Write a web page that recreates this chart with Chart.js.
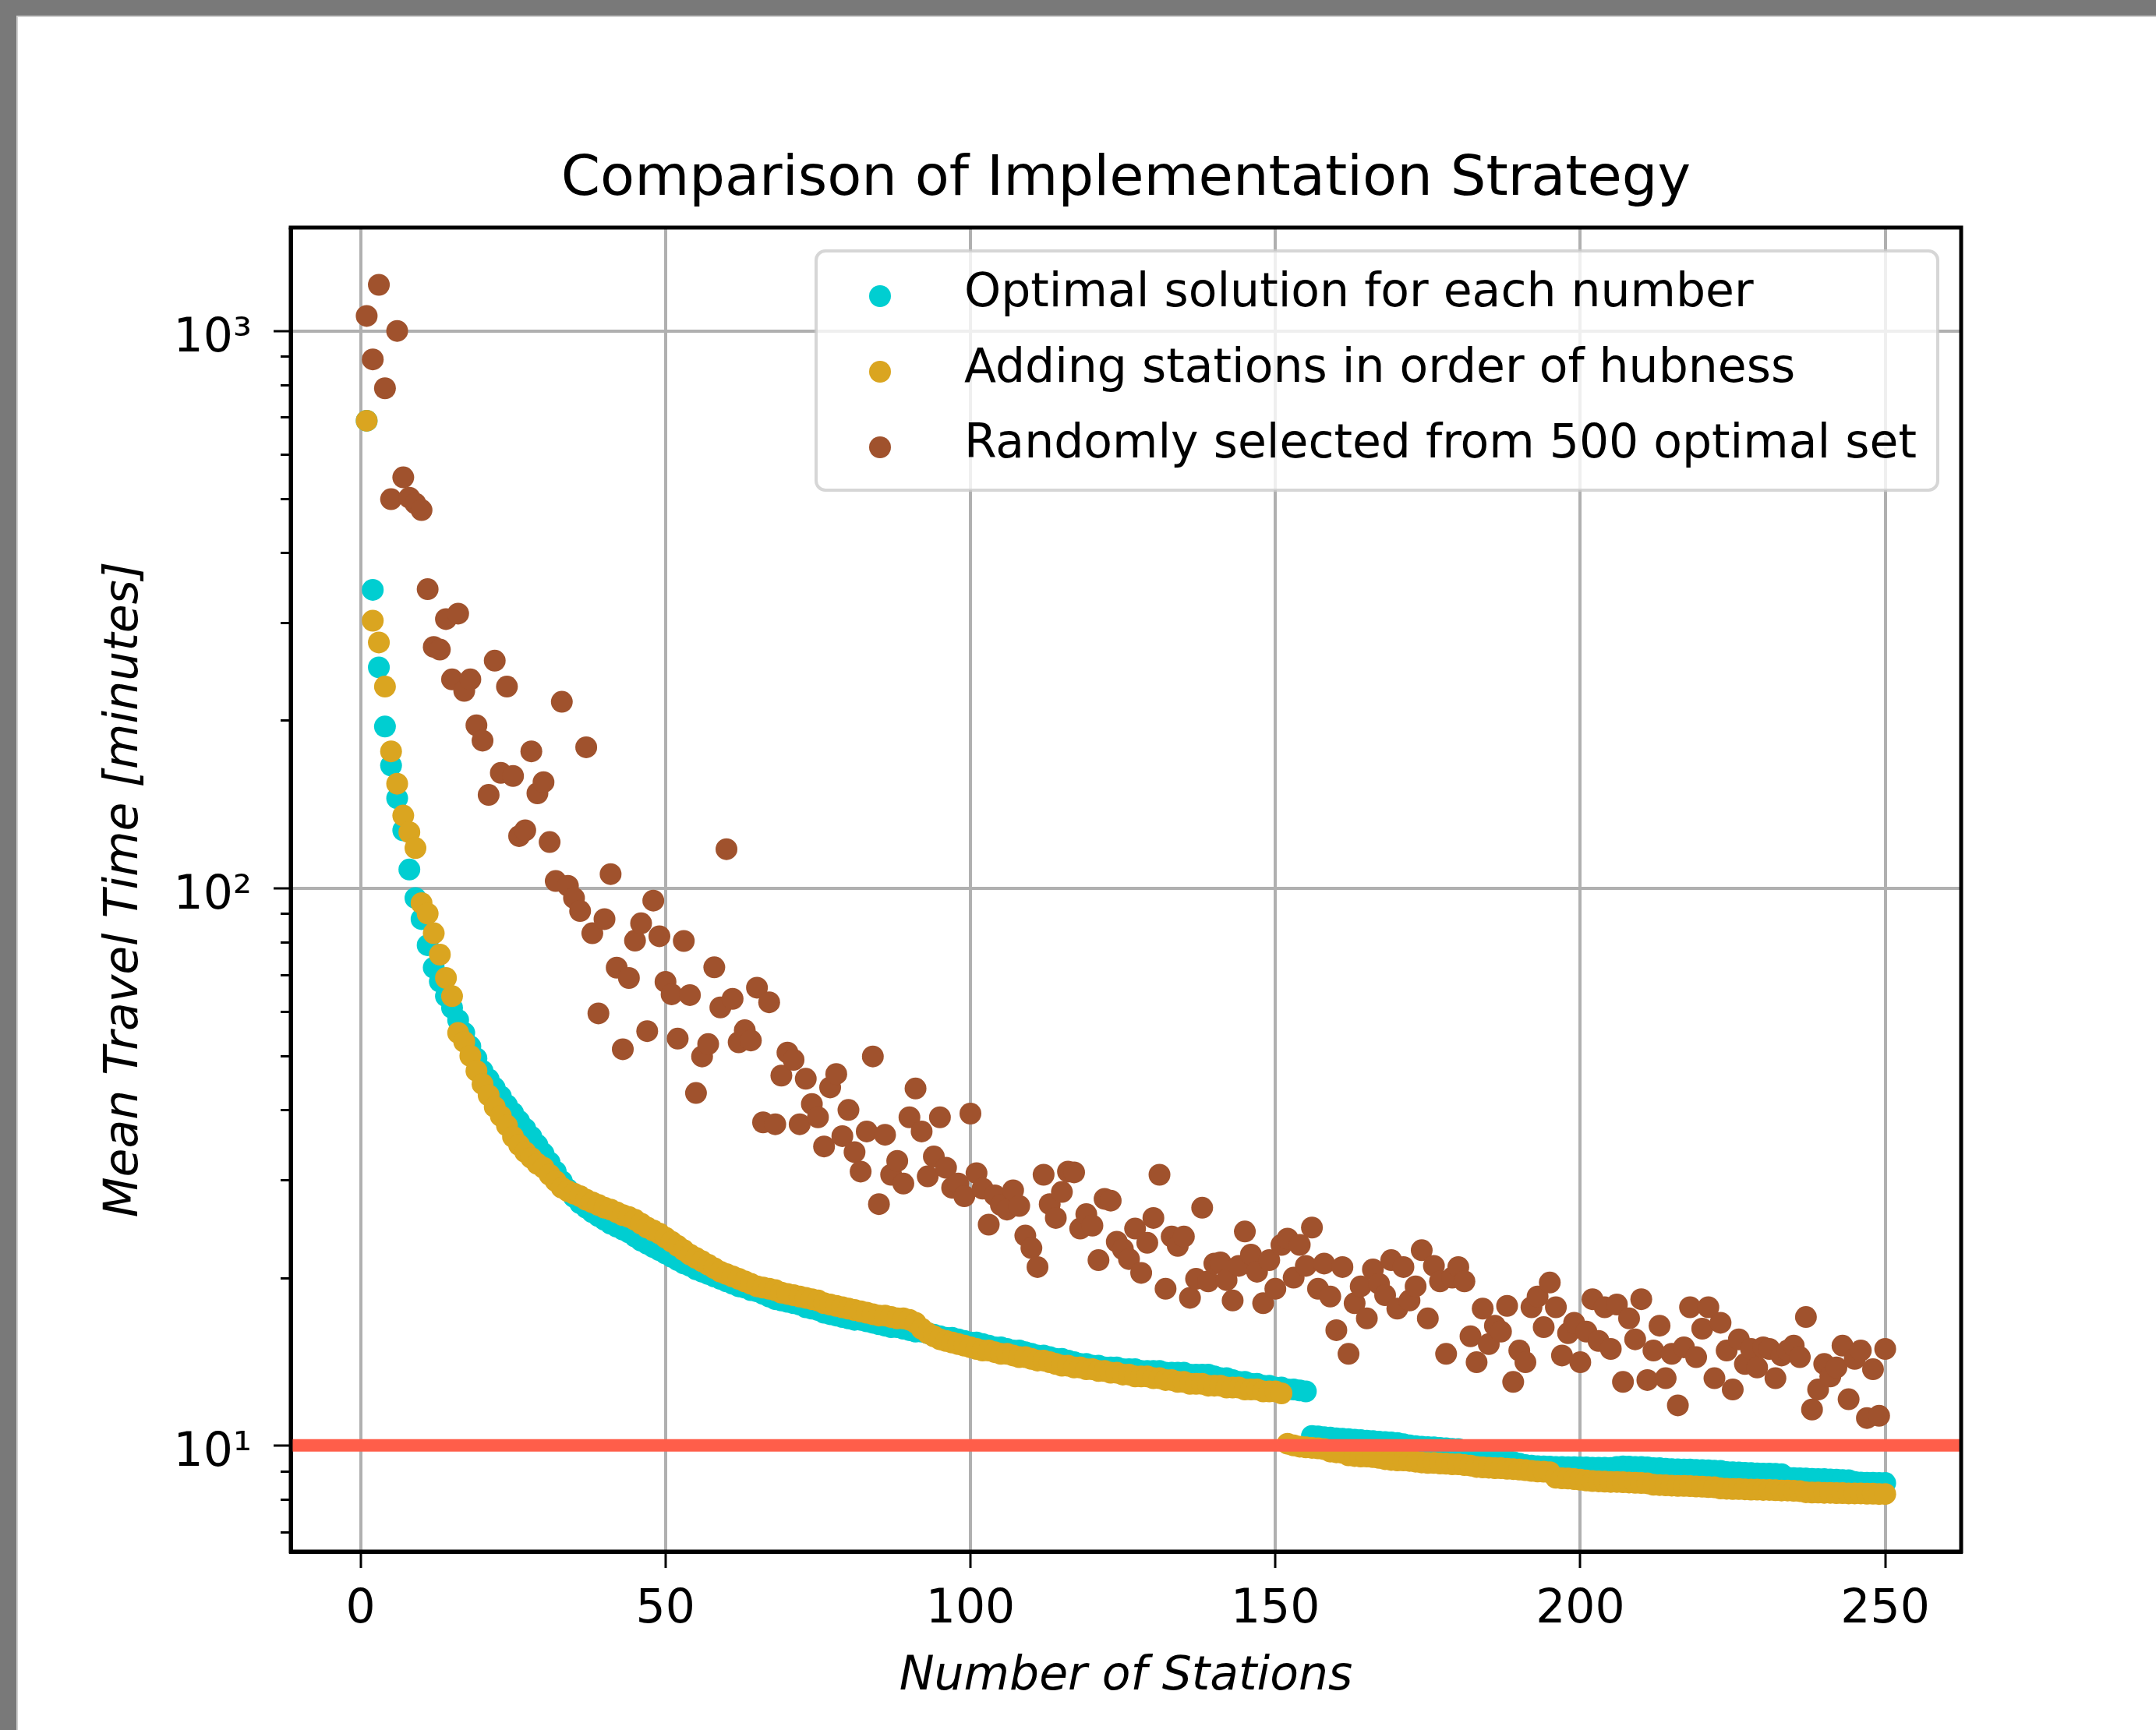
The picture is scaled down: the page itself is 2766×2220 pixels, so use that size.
<!DOCTYPE html>
<html>
<head>
<meta charset="utf-8">
<script src="https://cdn.jsdelivr.net/npm/chart.js@4.4.0/dist/chart.umd.min.js"></script>
<style>
  html, body { margin: 0; padding: 0; background: #fff; }
  canvas { display: block; }
</style>
</head>
<body>
<canvas id="chart" width="2766" height="2220"></canvas>
<script>
// Mean travel time vs number of stations, three placement strategies (log y)

const FONT = '"DejaVu Sans", "Liberation Sans", sans-serif'

// x = number of stations, 1..250
const stations = Array.from({ length: 250 }, (_, i) => i + 1)

// Optimal solution for each number
const optimal = [
  690, 343, 249, 195, 166, 145, 127, 108, 96, 88,
  79, 72, 68, 64, 61, 58, 55, 52, 49.5, 47.0,
  45.4, 43.8, 42.3, 40.8, 39.5, 38.2, 37.0, 35.8, 34.6, 33.4,
  32.2, 31.0, 29.8, 28.8, 27.9, 27.2, 26.7, 26.2, 25.8, 25.4,
  25.0, 24.7, 24.4, 24.1, 23.7, 23.3, 23.0, 22.7, 22.4, 22.1,
  21.8, 21.5, 21.2, 21.0, 20.7, 20.5, 20.3, 20.1, 19.9, 19.7,
  19.5, 19.3, 19.2, 19.0, 18.9, 18.7, 18.5, 18.3, 18.2, 18.1,
  18.0, 17.9, 17.7, 17.6, 17.5, 17.3, 17.2, 17.1, 17.0, 16.9,
  16.8, 16.8, 16.7, 16.6, 16.5, 16.4, 16.3, 16.3, 16.2, 16.1,
  16.0, 16.0, 15.9, 15.8, 15.7, 15.6, 15.6, 15.5, 15.4, 15.3,
  15.3, 15.2, 15.1, 15.0, 15.0, 14.9, 14.8, 14.8, 14.7, 14.6,
  14.5, 14.5, 14.4, 14.3, 14.3, 14.2, 14.1, 14.0, 14.0, 13.9,
  13.9, 13.8, 13.8, 13.8, 13.7, 13.7, 13.7, 13.6, 13.6, 13.6,
  13.6, 13.5, 13.5, 13.5, 13.5, 13.4, 13.4, 13.4, 13.4, 13.3,
  13.2, 13.2, 13.1, 13.0, 13.0, 12.9, 12.9, 12.8, 12.8, 12.7,
  12.7, 12.6, 12.6, 12.55, 12.5, 10.4, 10.38, 10.35, 10.33, 10.3,
  10.28, 10.26, 10.24, 10.22, 10.2, 10.18, 10.16, 10.14, 10.12, 10.1,
  10.05, 10.0, 9.97, 9.95, 9.93, 9.92, 9.9, 9.88, 9.86, 9.85,
  9.8, 9.75, 9.7, 9.65, 9.58, 9.52, 9.45, 9.4, 9.33, 9.27,
  9.22, 9.2, 9.18, 9.17, 9.16, 9.15, 9.15, 9.14, 9.14, 9.13,
  9.13, 9.12, 9.12, 9.12, 9.11, 9.15, 9.17, 9.16, 9.15, 9.15,
  9.13, 9.1, 9.1, 9.08, 9.07, 9.06, 9.05, 9.05, 9.04, 9.03,
  9.02, 9.01, 9.0, 8.96, 8.95, 8.94, 8.93, 8.92, 8.91, 8.9,
  8.9, 8.89, 8.88, 8.75, 8.74, 8.73, 8.72, 8.71, 8.7, 8.7,
  8.69, 8.68, 8.67, 8.66, 8.6, 8.58, 8.57, 8.57, 8.56, 8.56
]

// Adding stations in order of hubness
const hubness = [
  690, 302, 276, 230, 176, 154, 135, 126, 118, 94,
  90, 83, 76, 69, 64, 55, 53, 50, 47, 44.5,
  42.5, 40.5, 39.0, 37.5, 35.8, 34.6, 33.6, 32.8, 32.0, 31.5,
  30.6, 29.8, 29.0, 28.6, 28.3, 28.0, 27.6, 27.3, 27.0, 26.7,
  26.5, 26.2, 25.9, 25.7, 25.4, 25.0, 24.6, 24.3, 24.0, 23.6,
  23.2, 22.8, 22.4, 22.0, 21.7, 21.4, 21.1, 20.8, 20.5, 20.3,
  20.1, 19.9, 19.7, 19.5, 19.3, 19.2, 19.1, 19.0, 18.8, 18.7,
  18.6, 18.5, 18.4, 18.3, 18.2, 18.0, 17.9, 17.8, 17.7, 17.6,
  17.5, 17.4, 17.3, 17.2, 17.1, 17.1, 17.0, 16.9, 16.9, 16.8,
  16.6, 16.2, 15.9, 15.7, 15.5, 15.4, 15.3, 15.2, 15.1, 15.0,
  14.9, 14.8, 14.8, 14.7, 14.6, 14.6, 14.5, 14.4, 14.4, 14.3,
  14.2, 14.2, 14.1, 14.0, 13.9, 13.9, 13.8, 13.8, 13.7, 13.7,
  13.6, 13.6, 13.5, 13.5, 13.4, 13.4, 13.3, 13.3, 13.3, 13.2,
  13.2, 13.1, 13.1, 13.0, 13.0, 12.9, 12.9, 12.9, 12.8, 12.8,
  12.8, 12.7, 12.7, 12.7, 12.6, 12.6, 12.6, 12.5, 12.5, 12.5,
  12.4, 10.07, 10.0, 9.95, 9.92, 9.9, 9.88, 9.85, 9.75, 9.72,
  9.7, 9.6, 9.57, 9.55, 9.55, 9.53, 9.5, 9.45, 9.42, 9.4,
  9.4, 9.38, 9.35, 9.32, 9.3, 9.3, 9.28, 9.27, 9.25, 9.25,
  9.22, 9.2, 9.15, 9.13, 9.12, 9.1, 9.1, 9.08, 9.07, 9.05,
  9.03, 9.0, 8.98, 8.97, 8.95, 8.75, 8.73, 8.72, 8.7, 8.68,
  8.65, 8.63, 8.62, 8.61, 8.6, 8.6, 8.59, 8.58, 8.57, 8.56,
  8.55, 8.5, 8.49, 8.48, 8.47, 8.46, 8.46, 8.45, 8.44, 8.43,
  8.42, 8.41, 8.37, 8.36, 8.35, 8.35, 8.34, 8.33, 8.33, 8.32,
  8.32, 8.31, 8.3, 8.3, 8.29, 8.28, 8.24, 8.23, 8.23, 8.22,
  8.22, 8.21, 8.21, 8.2, 8.2, 8.2, 8.19, 8.19, 8.18, 8.18
]

// Randomly selected from 500 optimal set
const randomSet = [
  1064, 889, 1210, 789, 499, 1000, 546, 502, 490, 477,
  344, 271, 268, 304, 237, 311, 226, 237, 196, 184,
  147, 256, 161, 230, 159, 124, 127, 176, 148, 155,
  121, 103, 216, 101, 96, 91, 179, 83, 59.6, 88,
  106, 72, 51.4, 69, 80.5, 86.5, 55.4, 95, 82, 67.9,
  64.5, 53.7, 80.4, 64.3, 42.9, 49.9, 52.5, 72.1, 61.1, 117.5,
  63.3, 52.9, 55.6, 53.3, 66.3, 38.0, 62.4, 37.7, 46.1, 50.7,
  49.2, 37.7, 45.5, 41, 38.8, 34.4, 43.9, 46.4, 35.9, 40.0,
  33.6, 31, 36.6, 49.9, 27.1, 36.1, 30.6, 32.4, 29.5, 38.8,
  43.7, 36.6, 30.4, 33, 38.8, 31.5, 29, 29.5, 28, 39.4,
  30.8, 28.9, 24.9, 28.1, 27, 26.5, 28.7, 26.9, 23.8, 22.6,
  20.9, 30.6, 27.1, 25.6, 28.5, 31.0, 30.9, 24.5, 26, 24.8,
  21.5, 27.7, 27.5, 23.2, 22.5, 21.6, 24.5, 20.4, 23.1, 25.6,
  30.6, 19.1, 23.7, 22.8, 23.7, 18.4, 19.9, 26.7, 19.7, 21.2,
  21.3, 19.8, 18.2, 21.0, 24.2, 22.0, 20.5, 18.0, 21.5, 19.1,
  22.9, 23.5, 20.0, 22.9, 21, 24.6, 19.1, 21.2, 18.5, 16.1,
  20.9, 14.6, 18.0, 19.3, 16.9, 20.7, 19.5, 18.6, 21.5, 17.6,
  20.9, 18.2, 19.3, 22.4, 16.9, 21, 19.7, 14.6, 20, 20.9,
  19.7, 15.7, 14.1, 17.6, 15.2, 16.4, 16.0, 17.8, 13.0, 14.8,
  14.1, 17.7, 18.5, 16.3, 19.6, 17.7, 14.5, 15.9, 16.6, 14.1,
  16.0, 18.3, 15.4, 17.7, 14.9, 17.9, 13.0, 16.9, 15.5, 18.3,
  13.1, 14.8, 16.4, 13.2, 14.6, 11.8, 15.0, 17.7, 14.4, 16.2,
  17.7, 13.2, 16.6, 14.8, 12.6, 15.5, 14.0, 14.9, 13.8, 15.0,
  14.9, 13.2, 14.5, 14.8, 15.1, 14.4, 17.0, 11.6, 12.6, 14.0,
  13.3, 13.8, 15.1, 12.1, 14.3, 14.8, 11.2, 13.7, 11.3, 14.9
]

// horizontal reference line
const targetTime = 10

// axes
const xMin = -11.45
const xMax = 262.45
const yMin = 6.45
const yMax = 1533
const xTicks = [0, 50, 100, 150, 200, 250]
const xTickLabels = ['0', '50', '100', '150', '200', '250']
const yMajorTicks = [10, 100, 1000]
const yTickLabels = ['10¹', '10²', '10³']
const yMinorTicks = [7, 8, 9, 20, 30, 40, 50, 60, 70, 80, 90, 200, 300, 400, 500, 600, 700, 800, 900]

const seriesLabels = [
  'Optimal solution for each number',
  'Adding stations in order of hubness',
  'Randomly selected from 500 optimal set'
]
const seriesColors = ['#00ced1', '#daa520', '#a0522d']

function toPoints(values) {
  return values.map((v, i) => ({ x: stations[i], y: v }))
}

function scatterSet(label, values, color, order) {
  return {
    label: label,
    data: toPoints(values),
    backgroundColor: color,
    borderColor: color,
    pointBackgroundColor: color,
    pointBorderColor: color,
    pointBorderWidth: 0,
    pointRadius: 14,
    pointHoverRadius: 14,
    showLine: false,
    order: order
  }
}

// gray screenshot edge + white page
const pagePlugin = {
  id: 'page',
  beforeDraw(chart) {
    const ctx = chart.ctx
    ctx.save()
    ctx.fillStyle = '#ffffff'
    ctx.fillRect(0, 0, chart.width, chart.height)
    ctx.fillStyle = '#797979'
    ctx.fillRect(0, 0, chart.width, 20)
    ctx.fillRect(0, 0, 21, chart.height)
    ctx.fillStyle = '#cfcfcf'
    ctx.fillRect(21, 20, chart.width - 21, 2)
    ctx.fillRect(21, 20, 2, chart.height - 20)
    ctx.restore()
  }
}

// top/right spines, minor y ticks, title, legend
const decorPlugin = {
  id: 'decor',
  afterDatasetsDraw(chart) {
    const { ctx, chartArea } = chart
    ctx.save()
    ctx.strokeStyle = '#000'
    ctx.lineWidth = 5
    ctx.beginPath()
    ctx.moveTo(chartArea.left - 2.5, chartArea.top)
    ctx.lineTo(chartArea.right, chartArea.top)
    ctx.lineTo(chartArea.right, chartArea.bottom + 2.5)
    ctx.stroke()
    ctx.beginPath()
    ctx.moveTo(chartArea.left, chartArea.top)
    ctx.lineTo(chartArea.left, chartArea.bottom)
    ctx.lineTo(chartArea.right, chartArea.bottom)
    ctx.stroke()

    // minor ticks on the log axis
    const y = chart.scales.y
    ctx.lineWidth = 3
    ctx.beginPath()
    yMinorTicks.forEach(v => {
      const py = Math.round(y.getPixelForValue(v)) + 0.5
      ctx.moveTo(chartArea.left - 13, py)
      ctx.lineTo(chartArea.left, py)
    })
    ctx.stroke()
    ctx.restore()
  },
  afterDraw(chart) {
    const { ctx, chartArea } = chart
    ctx.save()
    // title
    ctx.fillStyle = '#000'
    ctx.font = '72px ' + FONT
    ctx.textAlign = 'center'
    ctx.textBaseline = 'alphabetic'
    ctx.fillText('Comparison of Implementation Strategy', (chartArea.left + chartArea.right) / 2, 250)

    // legend box in upper right
    const boxRight = chartArea.right - 30
    const boxLeft = 1047
    const boxTop = chartArea.top + 30
    const boxBottom = 629
    const r = 12
    ctx.beginPath()
    ctx.moveTo(boxLeft + r, boxTop)
    ctx.arcTo(boxRight, boxTop, boxRight, boxBottom, r)
    ctx.arcTo(boxRight, boxBottom, boxLeft, boxBottom, r)
    ctx.arcTo(boxLeft, boxBottom, boxLeft, boxTop, r)
    ctx.arcTo(boxLeft, boxTop, boxRight, boxTop, r)
    ctx.closePath()
    ctx.fillStyle = 'rgba(255,255,255,0.8)'
    ctx.fill()
    ctx.strokeStyle = 'rgba(204,204,204,0.8)'
    ctx.lineWidth = 4
    ctx.stroke()

    ctx.font = '60px ' + FONT
    ctx.textAlign = 'left'
    const rowGap = 97
    chart.data.datasets.slice(0, 3).forEach((ds, i) => {
      const cy = 380 + i * rowGap
      ctx.fillStyle = ds.backgroundColor
      ctx.beginPath()
      ctx.arc(1129, cy, 14, 0, Math.PI * 2)
      ctx.fill()
      ctx.fillStyle = '#000'
      ctx.fillText(ds.label, 1237, 393 + i * rowGap)
    })
    ctx.restore()
  }
}

new Chart(document.getElementById('chart'), {
  type: 'scatter',
  data: {
    datasets: [
      scatterSet(seriesLabels[0], optimal, seriesColors[0], 4),
      scatterSet(seriesLabels[1], hubness, seriesColors[1], 3),
      scatterSet(seriesLabels[2], randomSet, seriesColors[2], 2),
      {
        label: 'target',
        data: [{ x: xMin, y: targetTime }, { x: xMax, y: targetTime }],
        showLine: true,
        borderColor: '#ff5e4a',
        borderWidth: 16,
        pointRadius: 0,
        pointHoverRadius: 0,
        order: 1
      }
    ]
  },
  options: {
    responsive: false,
    animation: false,
    devicePixelRatio: 1,
    layout: { padding: { top: 292, right: 250, bottom: 0, left: 0 } },
    plugins: {
      legend: { display: false },
      tooltip: { enabled: false },
      title: { display: false }
    },
    scales: {
      x: {
        type: 'linear',
        min: xMin,
        max: xMax,
        afterBuildTicks: (scale) => { scale.ticks = xTicks.map(v => ({ value: v })) },
        afterFit: (scale) => { scale.height = 229 },
        grid: { color: '#b0b0b0', lineWidth: 4, tickColor: '#000', tickLength: 21, tickWidth: 3 },
        border: { color: '#000', width: 5 },
        ticks: {
          color: '#000',
          font: { family: FONT, size: 60 },
          padding: 18,
          maxRotation: 0,
          autoSkip: false,
          callback: (value, index) => xTickLabels[index]
        },
        title: {
          display: true,
          text: 'Number of Stations',
          color: '#000',
          font: { family: FONT, size: 60, style: 'italic' },
          padding: { top: 0, bottom: 32 }
        }
      },
      y: {
        type: 'logarithmic',
        min: yMin,
        max: yMax,
        afterBuildTicks: (scale) => { scale.ticks = yMajorTicks.map(v => ({ value: v, major: true })) },
        afterFit: (scale) => { scale.width = 373 },
        grid: { color: '#b0b0b0', lineWidth: 4, tickColor: '#000', tickLength: 22, tickWidth: 3 },
        border: { color: '#000', width: 5 },
        ticks: {
          color: '#000',
          font: { family: FONT, size: 60 },
          padding: 28,
          labelOffset: 11,
          autoSkip: false,
          callback: (value, index) => yTickLabels[index]
        },
        title: {
          display: true,
          text: 'Mean Travel Time [minutes]',
          color: '#000',
          font: { family: FONT, size: 60, style: 'italic' },
          padding: { top: 124, bottom: 0 }
        }
      }
    }
  },
  plugins: [pagePlugin, decorPlugin]
})
</script>
</body>
</html>
